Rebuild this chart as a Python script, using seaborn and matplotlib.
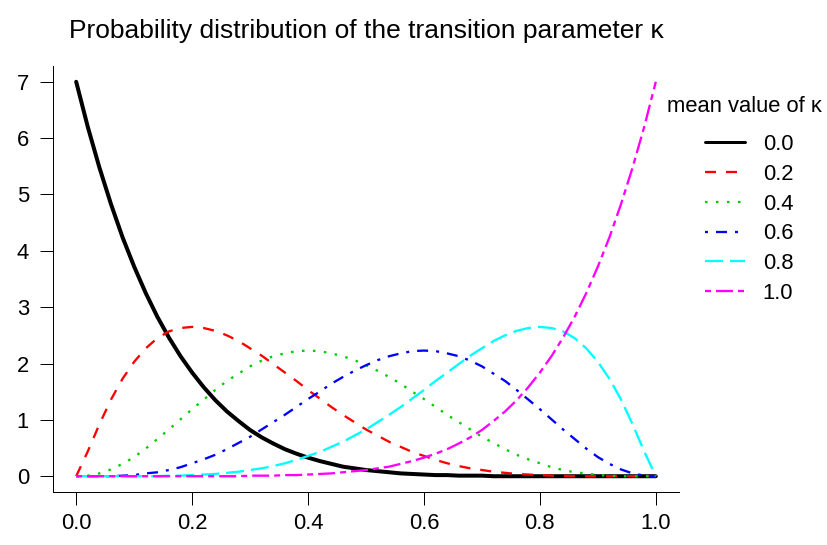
import numpy as np
import pandas as pd
import seaborn as sns
import matplotlib
matplotlib.use("Agg")
import matplotlib.pyplot as plt
from matplotlib.lines import Line2D

# ---- data ----
x_vals = [0.00, 0.02, 0.04, 0.06, 0.08, 0.10, 0.12, 0.14, 0.16, 0.18,
          0.20, 0.22, 0.24, 0.26, 0.28, 0.30, 0.32, 0.34, 0.36, 0.38,
          0.40, 0.42, 0.44, 0.46, 0.48, 0.50, 0.52, 0.54, 0.56, 0.58,
          0.60, 0.62, 0.64, 0.66, 0.68, 0.70, 0.72, 0.74, 0.76, 0.78,
          0.80, 0.82, 0.84, 0.86, 0.88, 0.90, 0.92, 0.94, 0.96, 0.98, 1.00]

dens_00 = [7.00, 6.20, 5.48, 4.83, 4.24, 3.72, 3.25, 2.83, 2.46, 2.13,
           1.84, 1.58, 1.35, 1.15, 0.98, 0.82, 0.69, 0.58, 0.48, 0.40,
           0.33, 0.27, 0.22, 0.17, 0.14, 0.11, 0.09, 0.07, 0.05, 0.04,
           0.03, 0.02, 0.02, 0.01, 0.01, 0.01, 0.00, 0.00, 0.00, 0.00,
           0.00, 0.00, 0.00, 0.00, 0.00, 0.00, 0.00, 0.00, 0.00, 0.00, 0.00]
dens_02 = [0.00, 0.44, 0.92, 1.36, 1.73, 2.03, 2.27, 2.45, 2.57, 2.63,
           2.65, 2.63, 2.58, 2.50, 2.40, 2.27, 2.14, 1.99, 1.84, 1.69,
           1.53, 1.38, 1.23, 1.09, 0.96, 0.83, 0.72, 0.61, 0.52, 0.43,
           0.36, 0.29, 0.23, 0.18, 0.14, 0.11, 0.08, 0.06, 0.04, 0.03,
           0.02, 0.01, 0.01, 0.00, 0.00, 0.00, 0.00, 0.00, 0.00, 0.00, 0.00]
dens_04 = [0.00, 0.01, 0.05, 0.12, 0.22, 0.34, 0.49, 0.66, 0.83, 1.01,
           1.19, 1.36, 1.53, 1.69, 1.82, 1.95, 2.05, 2.13, 2.18, 2.22,
           2.23, 2.22, 2.18, 2.13, 2.06, 1.97, 1.87, 1.76, 1.64, 1.50,
           1.37, 1.23, 1.09, 0.96, 0.83, 0.70, 0.59, 0.48, 0.38, 0.30,
           0.23, 0.16, 0.11, 0.07, 0.05, 0.02, 0.01, 0.00, 0.00, 0.00, 0.00]
dens_06 = [0.00, 0.00, 0.00, 0.00, 0.01, 0.02, 0.05, 0.07, 0.11, 0.16,
           0.23, 0.30, 0.38, 0.48, 0.59, 0.70, 0.83, 0.96, 1.09, 1.23,
           1.37, 1.50, 1.64, 1.76, 1.87, 1.97, 2.06, 2.13, 2.18, 2.22,
           2.23, 2.22, 2.18, 2.13, 2.05, 1.95, 1.82, 1.69, 1.53, 1.36,
           1.19, 1.01, 0.83, 0.66, 0.49, 0.34, 0.22, 0.12, 0.05, 0.01, 0.00]
dens_08 = [0.00, 0.00, 0.00, 0.00, 0.00, 0.00, 0.00, 0.00, 0.01, 0.01,
           0.02, 0.03, 0.04, 0.06, 0.08, 0.11, 0.14, 0.18, 0.23, 0.29,
           0.36, 0.43, 0.52, 0.61, 0.72, 0.83, 0.96, 1.09, 1.23, 1.38,
           1.53, 1.69, 1.84, 1.99, 2.14, 2.27, 2.40, 2.50, 2.58, 2.63,
           2.65, 2.63, 2.57, 2.45, 2.27, 2.03, 1.73, 1.36, 0.92, 0.44, 0.00]
dens_10 = [0.00, 0.00, 0.00, 0.00, 0.00, 0.00, 0.00, 0.00, 0.00, 0.00,
           0.00, 0.00, 0.00, 0.00, 0.00, 0.01, 0.01, 0.01, 0.02, 0.02,
           0.03, 0.04, 0.05, 0.07, 0.09, 0.11, 0.14, 0.17, 0.22, 0.27,
           0.33, 0.40, 0.48, 0.58, 0.69, 0.82, 0.98, 1.15, 1.35, 1.58,
           1.84, 2.13, 2.46, 2.83, 3.25, 3.72, 4.24, 4.83, 5.48, 6.20, 7.00]

mean_labels = ["0.0", "0.2", "0.4", "0.6", "0.8", "1.0"]
series = [dens_00, dens_02, dens_04, dens_06, dens_08, dens_10]

x_ticks = [0.0, 0.2, 0.4, 0.6, 0.8, 1.0]
x_tick_labels = ["0.0", "0.2", "0.4", "0.6", "0.8", "1.0"]
y_ticks = [0, 1, 2, 3, 4, 5, 6, 7]

title_text = "Probability distribution of the transition parameter \u03ba"
legend_title = "mean value of \u03ba"

# ---- styling ----
sns.set_theme(style="ticks")
plt.rcParams['font.family'] = ['Liberation Sans', 'DejaVu Sans']
plt.rcParams['lines.scale_dashes'] = False
plt.rcParams['axes.edgecolor'] = 'black'
plt.rcParams['xtick.color'] = 'black'
plt.rcParams['ytick.color'] = 'black'
plt.rcParams['text.color'] = 'black'
plt.rcParams['axes.labelcolor'] = 'black'

P = 0.72  # px -> pt at 100 dpi
styles = [
    dict(color="#000000", linewidth=4.0 * P, linestyle="-"),
    dict(color="#FF0000", linewidth=2.3 * P, linestyle=(0, (11 * P, 10 * P))),
    dict(color="#00CD00", linewidth=2.3 * P, linestyle=(0, (2.5 * P, 8.5 * P))),
    dict(color="#0000FF", linewidth=2.3 * P, linestyle=(0, (3 * P, 8 * P, 11 * P, 8 * P))),
    dict(color="#00FFFF", linewidth=2.3 * P, linestyle=(0, (18 * P, 7 * P))),
    dict(color="#FF00FF", linewidth=2.3 * P, linestyle=(0, (6 * P, 5 * P, 17 * P, 5 * P))),
]

W, H = 828, 545
fig = plt.figure(figsize=(W / 100, H / 100), dpi=100)
ax = fig.add_axes([53 / W, 1 - 492 / H, (679 - 53) / W, (492 - 66) / H])

for lab, vals, st in zip(mean_labels, series, styles):
    df = pd.DataFrame({"x": x_vals, "y": vals})
    sns.lineplot(data=df, x="x", y="y", ax=ax, solid_capstyle="round", **st)

ax.set_xlim(-0.04, 1.04)
ax.set_ylim(-0.28, 7.28)
ax.set_xticks(x_ticks)
ax.set_xticklabels(x_tick_labels)
ax.set_yticks(y_ticks)
ax.set_xlabel("")
ax.set_ylabel("")
for s in ["top", "right"]:
    ax.spines[s].set_visible(False)
for s in ["left", "bottom"]:
    ax.spines[s].set_linewidth(1.0 * P)
    ax.spines[s].set_color("black")
fs = 15.8
ax.tick_params(axis="both", length=13 * P, width=1.0 * P, labelsize=fs,
               colors="black", labelcolor="black")
ax.tick_params(axis="x", pad=6)
ax.tick_params(axis="y", pad=8)

fig.text(366 / W, 1 - 31 / H, title_text, ha="center", va="center", fontsize=19)

leg_styles = [dict(st) for st in styles]
leg_styles[0]["linewidth"] = 3.0 * P
handles = [Line2D([], [], **st) for st in leg_styles]
fig.legend(handles, mean_labels, loc="upper left",
           bbox_to_anchor=(705 / W, 1 - 134 / H), frameon=False,
           borderpad=0, borderaxespad=0, handlelength=40 / 22, handletextpad=18 / 22,
           labelspacing=0.4, fontsize=fs)
fig.text(667 / W, 1 - 106 / H, legend_title, ha="left", va="center", fontsize=fs)

fig.savefig("out.png", dpi=100)
